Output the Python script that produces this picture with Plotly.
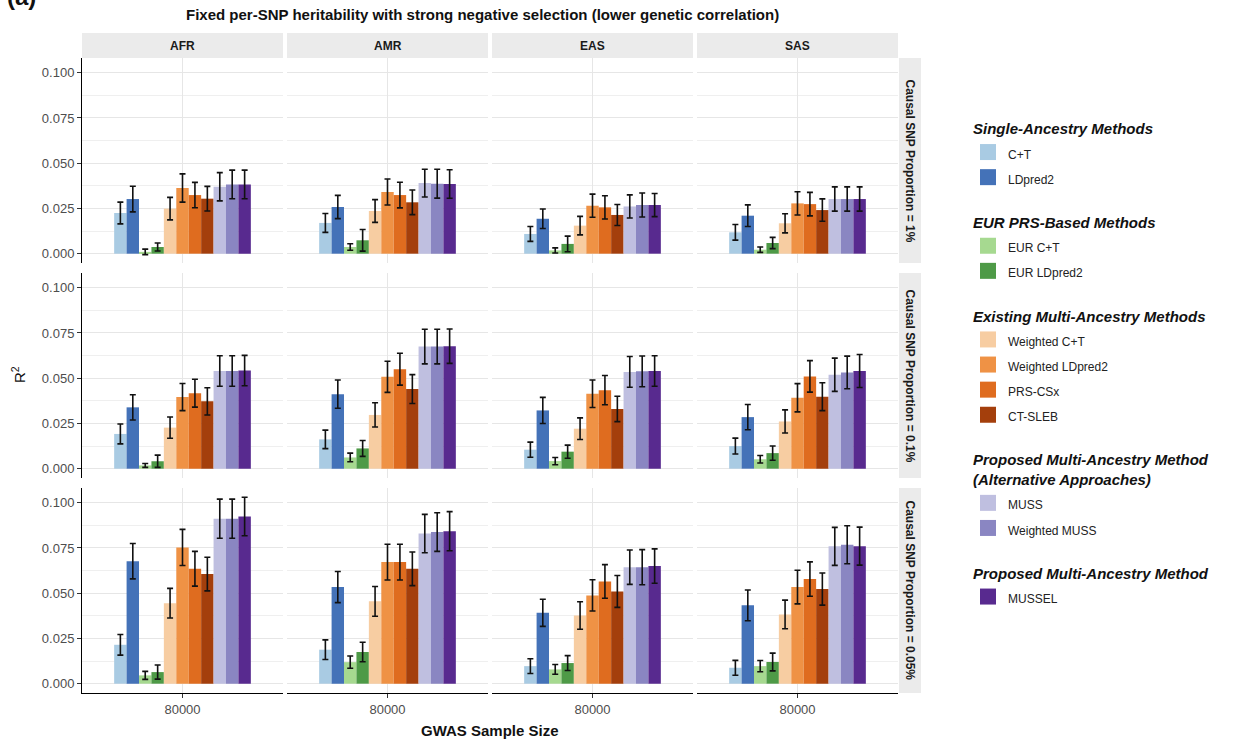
import plotly.graph_objects as go

# ---------------- data ----------------
methods = ["C+T", "LDpred2", "EUR C+T", "EUR LDpred2", "Weighted C+T", "Weighted LDpred2",
           "PRS-CSx", "CT-SLEB", "MUSS", "Weighted MUSS", "MUSSEL"]
method_groups = ["Single-Ancestry Methods"] * 2 + ["EUR PRS-Based Methods"] * 2 + \
                ["Existing Multi-Ancestry Methods"] * 4 + \
                ["Proposed Multi-Ancestry Method<br>(Alternative Approaches)"] * 2 + \
                ["Proposed Multi-Ancestry Method"]
colors = ["#a9cbe3", "#4472b8", "#a6d990", "#4e9a47", "#f7cda2", "#ef9245",
          "#df6c1f", "#a43f0c", "#bfbfe0", "#8a86c2", "#582a8f"]
ancestries = ["AFR", "AMR", "EAS", "SAS"]
proportions = ["1%", "0.1%", "0.05%"]
sample_sizes = ["80000"]

r2_1pct_AFR = [0.0225, 0.0302, 0.0010, 0.0037, 0.0249, 0.0363, 0.0324, 0.0304, 0.0370, 0.0383, 0.0383]
se_1pct_AFR = [0.0060, 0.0071, 0.0015, 0.0022, 0.0062, 0.0078, 0.0070, 0.0068, 0.0078, 0.0079, 0.0079]
r2_1pct_AMR = [0.0170, 0.0258, 0.0037, 0.0074, 0.0236, 0.0341, 0.0324, 0.0284, 0.0390, 0.0387, 0.0385]
se_1pct_AMR = [0.0052, 0.0064, 0.0018, 0.0060, 0.0063, 0.0072, 0.0071, 0.0068, 0.0077, 0.0080, 0.0079]
r2_1pct_EAS = [0.0109, 0.0193, 0.0018, 0.0054, 0.0155, 0.0265, 0.0256, 0.0214, 0.0261, 0.0269, 0.0269]
se_1pct_EAS = [0.0041, 0.0054, 0.0014, 0.0043, 0.0051, 0.0064, 0.0064, 0.0058, 0.0064, 0.0066, 0.0064]
r2_1pct_SAS = [0.0118, 0.0210, 0.0022, 0.0059, 0.0168, 0.0278, 0.0274, 0.0241, 0.0302, 0.0302, 0.0302]
se_1pct_SAS = [0.0043, 0.0060, 0.0015, 0.0031, 0.0053, 0.0064, 0.0065, 0.0062, 0.0067, 0.0067, 0.0067]

r2_01pct_AFR = [0.0192, 0.0339, 0.0018, 0.0041, 0.0227, 0.0396, 0.0417, 0.0372, 0.0540, 0.0540, 0.0542]
se_01pct_AFR = [0.0055, 0.0070, 0.0011, 0.0034, 0.0059, 0.0075, 0.0077, 0.0075, 0.0084, 0.0084, 0.0084]
r2_01pct_AMR = [0.0162, 0.0412, 0.0062, 0.0112, 0.0297, 0.0508, 0.0550, 0.0440, 0.0675, 0.0675, 0.0677]
se_01pct_AMR = [0.0051, 0.0078, 0.0024, 0.0044, 0.0067, 0.0086, 0.0088, 0.0080, 0.0096, 0.0096, 0.0095]
r2_01pct_EAS = [0.0105, 0.0322, 0.0042, 0.0094, 0.0221, 0.0414, 0.0434, 0.0330, 0.0535, 0.0538, 0.0540]
se_01pct_EAS = [0.0042, 0.0072, 0.0020, 0.0036, 0.0060, 0.0076, 0.0081, 0.0070, 0.0085, 0.0085, 0.0084]
r2_01pct_SAS = [0.0125, 0.0285, 0.0052, 0.0086, 0.0261, 0.0392, 0.0510, 0.0398, 0.0519, 0.0532, 0.0540]
se_01pct_SAS = [0.0044, 0.0070, 0.0021, 0.0039, 0.0064, 0.0078, 0.0087, 0.0077, 0.0092, 0.0090, 0.0091]

r2_005pct_AFR = [0.0215, 0.0677, 0.0046, 0.0064, 0.0445, 0.0753, 0.0635, 0.0606, 0.0912, 0.0912, 0.0924]
se_005pct_AFR = [0.0057, 0.0098, 0.0022, 0.0039, 0.0082, 0.0100, 0.0096, 0.0093, 0.0108, 0.0108, 0.0106]
r2_005pct_AMR = [0.0188, 0.0534, 0.0119, 0.0175, 0.0455, 0.0672, 0.0672, 0.0635, 0.0830, 0.0838, 0.0843]
se_005pct_AMR = [0.0054, 0.0086, 0.0034, 0.0054, 0.0082, 0.0099, 0.0099, 0.0093, 0.0106, 0.0107, 0.0108]
r2_005pct_EAS = [0.0097, 0.0392, 0.0079, 0.0114, 0.0377, 0.0488, 0.0565, 0.0510, 0.0644, 0.0644, 0.0650]
se_005pct_EAS = [0.0041, 0.0075, 0.0027, 0.0041, 0.0076, 0.0086, 0.0093, 0.0088, 0.0095, 0.0097, 0.0095]
r2_005pct_SAS = [0.0088, 0.0433, 0.0097, 0.0120, 0.0383, 0.0534, 0.0578, 0.0523, 0.0759, 0.0768, 0.0760]
se_005pct_SAS = [0.0041, 0.0085, 0.0031, 0.0049, 0.0079, 0.0093, 0.0095, 0.0089, 0.0105, 0.0105, 0.0105]

r2_values = [
    [r2_1pct_AFR, r2_1pct_AMR, r2_1pct_EAS, r2_1pct_SAS],
    [r2_01pct_AFR, r2_01pct_AMR, r2_01pct_EAS, r2_01pct_SAS],
    [r2_005pct_AFR, r2_005pct_AMR, r2_005pct_EAS, r2_005pct_SAS],
]
se_values = [
    [se_1pct_AFR, se_1pct_AMR, se_1pct_EAS, se_1pct_SAS],
    [se_01pct_AFR, se_01pct_AMR, se_01pct_EAS, se_01pct_SAS],
    [se_005pct_AFR, se_005pct_AMR, se_005pct_EAS, se_005pct_SAS],
]

# ---------------- layout geometry (pixels) ----------------
W, H = 1246, 742
col_px = [(82, 283), (287, 488), (492, 693), (697, 898)]
row_px = [(58, 263), (273, 478), (488, 693)]
strip_top, strip_bot = 33, 58
rstrip_l, rstrip_r = 899, 921

FONT = "Liberation Sans, Arial, sans-serif"
GRID = "#e6e6e6"
MINOR = "#efefef"
TICKC = "#4d4d4d"

def px_x(p):
    return p / W

def px_y(p):
    return 1 - p / H

fig = go.Figure()
layout = {}

for r in range(3):
    for c in range(4):
        idx = r * 4 + c + 1
        xa = "x" if idx == 1 else f"x{idx}"
        ya = "y" if idx == 1 else f"y{idx}"
        vals = r2_values[r][c]
        errs = se_values[r][c]
        for m, name in enumerate(methods):
            fig.add_trace(go.Bar(
                x=sample_sizes, y=[vals[m]], name=name,
                marker=dict(color=colors[m], line=dict(width=0)),
                error_y=dict(type="data", array=[errs[m]], color="#111111",
                             thickness=1.6, width=3),
                xaxis=xa, yaxis=ya, showlegend=False, offsetgroup=str(m),
                hovertemplate=f"{ancestries[c]} | {proportions[r]} | {name}: %{{y:.4f}}<extra></extra>",
            ))
        key_x = "xaxis" if idx == 1 else f"xaxis{idx}"
        key_y = "yaxis" if idx == 1 else f"yaxis{idx}"
        bottom = (r == 2)
        left = (c == 0)
        layout[key_x] = dict(
            domain=[px_x(col_px[c][0]), px_x(col_px[c][1])],
            anchor=ya, type="category", range=[-0.5, 0.5],
            showgrid=True, gridcolor=GRID, gridwidth=1,
            showticklabels=bottom, ticks="outside" if bottom else "",
            ticklen=4, tickcolor="#333333",
            tickfont=dict(family=FONT, size=13, color=TICKC),
            showline=bottom, linecolor="#000000", linewidth=1,
            zeroline=False, fixedrange=True,
        )
        layout[key_y] = dict(
            domain=[px_y(row_px[r][1]), px_y(row_px[r][0])],
            anchor=xa, range=[-0.00515, 0.10815],
            tick0=0, dtick=0.025, tickformat=".3f",
            showgrid=True, gridcolor=GRID, gridwidth=1,
            minor=dict(dtick=0.0125, tick0=0, showgrid=True, gridcolor=MINOR, gridwidth=1),
            showticklabels=left, ticks="outside" if left else "",
            ticklen=4, tickcolor="#333333",
            tickfont=dict(family=FONT, size=13, color=TICKC),
            showline=left, linecolor="#000000", linewidth=1,
            zeroline=False, fixedrange=True,
        )

# legend via proxy traces (square swatches)
for m, name in enumerate(methods):
    fig.add_trace(go.Scatter(
        x=[None], y=[None], mode="markers",
        marker=dict(symbol="square", size=16, color=colors[m]),
        name=f"<span style='font-size:12px'>{name}</span>",
        legendgroup=method_groups[m],
        legendgrouptitle=dict(text=method_groups[m],
                              font=dict(family=FONT, size=15, color="#111111",
                                        weight="bold", style="italic")),
        showlegend=True, xaxis="x", yaxis="y", hoverinfo="skip",
    ))

shapes = []
annotations = []
# column strips
for c, anc in enumerate(ancestries):
    shapes.append(dict(type="rect", xref="paper", yref="paper",
                       x0=px_x(col_px[c][0]), x1=px_x(col_px[c][1]),
                       y0=px_y(strip_bot), y1=px_y(strip_top),
                       fillcolor="#ebebeb", line=dict(width=0), layer="below"))
    annotations.append(dict(text=f"<b>{anc}</b>", xref="paper", yref="paper",
                            x=px_x((col_px[c][0] + col_px[c][1]) / 2),
                            y=px_y((strip_top + strip_bot) / 2),
                            xanchor="center", yanchor="middle",
                            showarrow=False, font=dict(family=FONT, size=12, color="#1a1a1a")))
# row strips
for r, prop in enumerate(proportions):
    shapes.append(dict(type="rect", xref="paper", yref="paper",
                       x0=px_x(rstrip_l), x1=px_x(rstrip_r),
                       y0=px_y(row_px[r][1]), y1=px_y(row_px[r][0]),
                       fillcolor="#ebebeb", line=dict(width=0), layer="below"))
    annotations.append(dict(text=f"<b>Causal SNP Proportion = {prop}</b>",
                            xref="paper", yref="paper", textangle=90,
                            x=px_x((rstrip_l + rstrip_r) / 2),
                            y=px_y((row_px[r][0] + row_px[r][1]) / 2),
                            xanchor="center", yanchor="middle",
                            showarrow=False, font=dict(family=FONT, size=12, color="#1a1a1a")))

annotations += [
    dict(text="<b>Fixed per-SNP heritability with strong negative selection (lower genetic correlation)</b>",
         xref="paper", yref="paper", x=px_x(482), y=px_y(15), xanchor="center", yanchor="middle",
         showarrow=False, font=dict(family=FONT, size=15, color="#111111")),
    dict(text="<b>(a)</b>", xref="paper", yref="paper", x=px_x(21), y=px_y(-3),
         xanchor="center", yanchor="middle",
         showarrow=False, font=dict(family=FONT, size=24, color="#111111")),
    dict(text="R<sup>2</sup>", xref="paper", yref="paper", x=px_x(18), y=px_y(375),
         xanchor="center", yanchor="middle",
         textangle=-90, showarrow=False, font=dict(family=FONT, size=15, color="#111111")),
    dict(text="<b>GWAS Sample Size</b>", xref="paper", yref="paper", x=px_x(490), y=px_y(730),
         xanchor="center", yanchor="middle",
         showarrow=False, font=dict(family=FONT, size=15, color="#111111")),
]

fig.update_layout(
    **layout,
    width=W, height=H,
    margin=dict(l=0, r=0, t=0, b=0),
    paper_bgcolor="white", plot_bgcolor="white",
    barmode="group", bargap=0.32, bargroupgap=0.0,
    showlegend=True,
    legend=dict(x=px_x(968), y=px_y(112), xanchor="left", yanchor="top",
                font=dict(family=FONT, size=17, color="#222222"),
                tracegroupgap=21, bgcolor="rgba(0,0,0,0)", borderwidth=0,
                itemclick=False, itemdoubleclick=False),
    shapes=shapes, annotations=annotations,
    font=dict(family=FONT),
)

fig.write_html("out.html")
